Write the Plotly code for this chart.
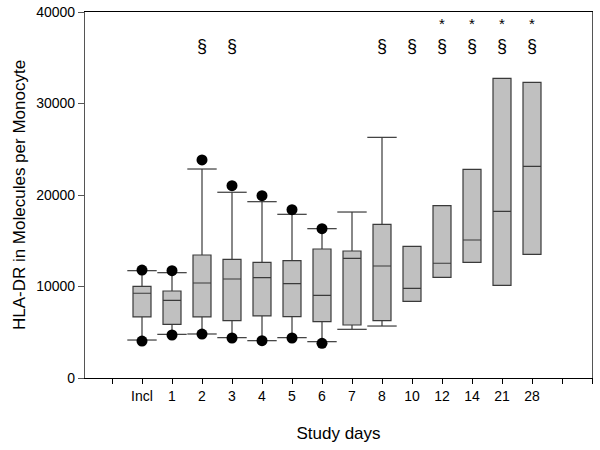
import plotly.graph_objects as go

categories = ['Incl', '1', '2', '3', '4', '5', '6', '7', '8', '10', '12', '14', '21', '28']
q1_vals = [6670, 5870, 6670, 6260, 6780, 6700, 6160, 5790, 6260, 8380, 11000, 12640, 10130, 13520]
median_vals = [9260, 8490, 10380, 10820, 10970, 10310, 9030, 13080, 12240, 9800, 12540, 15080, 18220, 23130]
q3_vals = [10020, 9510, 13440, 12970, 12640, 12820, 14100, 13880, 16790, 14390, 18830, 22810, 32750, 32310]
lower_whisker = [4150, 4770, 4810, 4410, 4080, 4410, 3970, 5320, 5680, None, None, None, None, None]
upper_whisker = [11730, 11510, 22840, 20300, 19270, 17890, 16320, 18140, 26300, None, None, None, None, None]
outlier_high = [11800, 11730, 23830, 21020, 19930, 18400, 16320, None, None, None, None, None, None, None]
outlier_low = [4040, 4700, 4800, 4370, 4080, 4370, 3790, None, None, None, None, None, None, None]
section_marks = ['2', '3', '8', '10', '12', '14', '21', '28']
star_marks = ['12', '14', '21', '28']

pos = list(range(1, len(categories) + 1))
cat_pos = dict(zip(categories, pos))
tick_vals = list(range(0, len(categories) + 3))
tick_text = [''] + categories + ['', '']

lf = [l if l is not None else q for l, q in zip(lower_whisker, q1_vals)]
uf = [u if u is not None else q for u, q in zip(upper_whisker, q3_vals)]

fig = go.Figure()
fig.add_trace(go.Box(
    x=pos, q1=q1_vals, median=median_vals, q3=q3_vals,
    lowerfence=lf, upperfence=uf,
    width=0.6, whiskerwidth=0,
    fillcolor='#c0c0c0', line=dict(color='#3a3a3a', width=1.2),
    boxpoints=False, showlegend=False, hoverinfo='skip'))

# whisker caps
cap_x = [p for p, v in zip(pos, upper_whisker) if v is not None] + \
        [p for p, v in zip(pos, lower_whisker) if v is not None]
cap_y = [v for v in upper_whisker if v is not None] + [v for v in lower_whisker if v is not None]
fig.add_trace(go.Scatter(
    x=cap_x, y=cap_y, mode='markers',
    marker=dict(symbol='line-ew', size=21, line=dict(color='#3a3a3a', width=1.2)),
    showlegend=False, hoverinfo='skip'))

# outlier dots
dot_x = [p for p, v in zip(pos, outlier_high) if v is not None] + \
        [p for p, v in zip(pos, outlier_low) if v is not None]
dot_y = [v for v in outlier_high if v is not None] + [v for v in outlier_low if v is not None]
fig.add_trace(go.Scatter(
    x=dot_x, y=dot_y, mode='markers',
    marker=dict(symbol='circle', size=11, color='black'),
    showlegend=False, hoverinfo='skip'))

for c in section_marks:
    if c in star_marks:
        txt = '<span style="font-size:15px">*</span><br>§'
        yv, anchor = 36300 + 0, 'bottom'
        fig.add_annotation(x=cat_pos[c], y=34950, text=txt, showarrow=False,
                           yanchor='bottom', align='center',
                           font=dict(size=18, color='black', family='Liberation Sans, Arial'))
    else:
        fig.add_annotation(x=cat_pos[c], y=36300, text='§', showarrow=False,
                           font=dict(size=18, color='black', family='Liberation Sans, Arial'))

fig.update_layout(
    width=600, height=450,
    margin=dict(l=85, r=8, t=12, b=72, autoexpand=False),
    plot_bgcolor='white', paper_bgcolor='white',
    font=dict(family='Liberation Sans, Arial', size=14, color='black'),
    xaxis=dict(
        range=[-0.9, 16.0], tickmode='array', tickvals=tick_vals, ticktext=tick_text,
        ticks='outside', ticklen=5, tickcolor='black', tickwidth=1,
        showline=True, linecolor='black', linewidth=1, mirror=True,
        showgrid=False, zeroline=False, automargin=False,
        title=dict(text='Study days', font=dict(size=17), standoff=24),
        tickfont=dict(size=14)),
    yaxis=dict(
        range=[0, 40000], tickvals=[0, 10000, 20000, 30000, 40000],
        ticktext=['0', '10000', '20000', '30000', '40000'],
        ticks='outside', ticklen=6, tickcolor='#555', tickwidth=1,
        showline=True, linecolor='#555', linewidth=1.2, mirror=True,
        showgrid=False, zeroline=False, automargin=False,
        title=dict(text='HLA-DR in Molecules per Monocyte', font=dict(size=17), standoff=6),
        tickfont=dict(size=14)),
)

fig.write_html('out.html', config={'displayModeBar': False},
               post_script="document.body.style.margin='0';document.body.style.overflow='hidden';")
